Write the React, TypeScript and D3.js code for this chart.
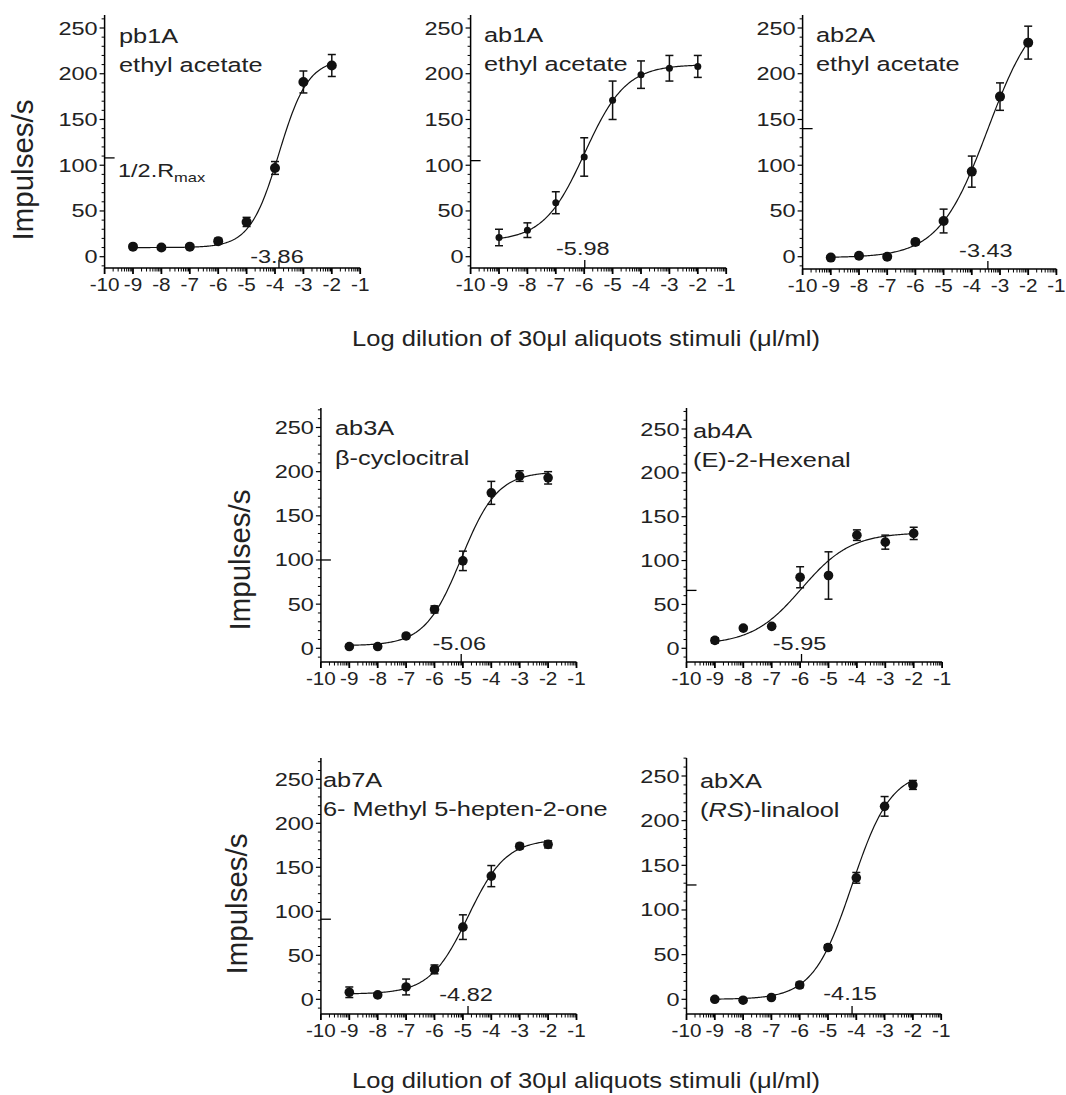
import React from "react";
import * as d3 from "d3";

// ---------- DATA ----------
const doses = [-9, -8, -7, -6, -5, -4, -3, -2];
const xTickLabels = ["-10", "-9", "-8", "-7", "-6", "-5", "-4", "-3", "-2", "-1"];
const yTickValues = [0, 50, 100, 150, 200, 250];
const neuronNames = ["pb1A", "ab1A", "ab2A", "ab3A", "ab4A", "ab7A", "abXA"];
const stimulusNames = [
  "ethyl acetate",
  "ethyl acetate",
  "ethyl acetate",
  "β-cyclocitral",
  "(E)-2-Hexenal",
  "6- Methyl 5-hepten-2-one",
  "(RS)-linalool",
];

const pb1AMeans = [11, 10, 11, 17, 38, 97, 191, 209];
const pb1AErrors = [2, 2, 2, 3, 5, 7, 12, 12];
const ab1AMeans = [21, 29, 59, 109, 171, 199, 206, 208];
const ab1AErrors = [9, 8, 12, 21, 21, 15, 14, 12];
const ab2AMeans = [-1, 1, 0, 16, 39, 93, 175, 234];
const ab2AErrors = [2, 2, 2, 3, 13, 17, 15, 18];
const ab3AMeans = [2, 2, 14, 44, 99, 176, 195, 193];
const ab3AErrors = [2, 2, 2, 4, 11, 13, 6, 7];
const ab4AMeans = [9, 23, 25, 81, 83, 129, 121, 131];
const ab4AErrors = [3, 2, 2, 12, 27, 6, 8, 7];
const ab7AMeans = [8, 5, 14, 34, 82, 140, 174, 176];
const ab7AErrors = [6, 2, 9, 5, 14, 12, 3, 4];
const abXAMeans = [0, -1, 2, 16, 58, 136, 216, 240];
const abXAErrors = [2, 2, 2, 3, 3, 6, 11, 5];

const allMeans = [pb1AMeans, ab1AMeans, ab2AMeans, ab3AMeans, ab4AMeans, ab7AMeans, abXAMeans];
const allErrors = [pb1AErrors, ab1AErrors, ab2AErrors, ab3AErrors, ab4AErrors, ab7AErrors, abXAErrors];

// sigmoidal dose-response fit parameters
const logEC50s = [-3.86, -5.98, -3.43, -5.06, -5.95, -4.82, -4.15];
const fitBottoms = [10, 17, -1, 3, 4, 6, 0];
const fitTops = [216, 210, 280, 200, 132, 182, 256];
const hillSlopes = [0.85, 0.6, 0.5, 0.68, 0.5, 0.65, 0.63];

const yAxisTitle = "Impulses/s";
const xAxisTitle = "Log dilution of 30μl aliquots stimuli (μl/ml)";

// ---------- LAYOUT ----------
const layouts = [
  { ax: 104.6, dec: 28.4, y0: 256.7, y250: 28.0, yTop: 15, yAxis: 268, lx: 119, lb1: 43, lb2: 72, ecOff: 5, r: 5 },
  { ax: 470.6, dec: 28.4, y0: 256.7, y250: 28.0, yTop: 15, yAxis: 268, lx: 484, lb1: 42, lb2: 71, ecOff: 13, r: 3.5 },
  { ax: 802.6, dec: 28.2, y0: 256.7, y250: 28.0, yTop: 15, yAxis: 269, lx: 816, lb1: 42, lb2: 71, ecOff: 12, r: 5 },
  { ax: 320.9, dec: 28.4, y0: 648.3, y250: 427.5, yTop: 408, yAxis: 662, lx: 335, lb1: 435, lb2: 465, ecOff: 12, r: 4.8 },
  { ax: 686.5, dec: 28.4, y0: 648.3, y250: 429, yTop: 408, yAxis: 662, lx: 693, lb1: 438, lb2: 467, ecOff: 12, r: 4.8 },
  { ax: 320.9, dec: 28.4, y0: 999.3, y250: 779.3, yTop: 758, yAxis: 1014, lx: 323, lb1: 787, lb2: 816, ecOff: 13, r: 4.8 },
  { ax: 686.5, dec: 28.3, y0: 999.3, y250: 776, yTop: 758, yAxis: 1014, lx: 700, lb1: 788, lb2: 817, ecOff: 14, r: 4.8 },
];
const FONT = "'Liberation Sans', Arial, Helvetica, sans-serif";
const TEXT = "#222";

function SText(props: any) {
  const { x, y, size, anchor = "start", sx = 1.27, children, style } = props;
  return (
    <text
      transform={`translate(${x},${y}) scale(${sx},1)`}
      fontSize={size}
      textAnchor={anchor}
      fontFamily={FONT}
      fill={TEXT}
      style={style}
    >
      {children}
    </text>
  );
}

function Panel({ i }: { i: number }) {
  const L = layouts[i];
  const x = d3.scaleLinear().domain([-10, -1]).range([L.ax, L.ax + 9 * L.dec]);
  const y = d3.scaleLinear().domain([0, 250]).range([L.y0, L.y250]);
  const yMinVal = y.invert(L.yAxis);
  const yMaxVal = y.invert(L.yTop);

  const means = allMeans[i];
  const errs = allErrors[i];
  const bottom = fitBottoms[i];
  const top = fitTops[i];
  const ec = logEC50s[i];
  const h = hillSlopes[i];
  const f = (v: number) => bottom + (top - bottom) / (1 + Math.pow(10, (ec - v) * h));
  const curvePts = d3.range(0, 201).map((k) => {
    const v = doses[0] + ((doses[doses.length - 1] - doses[0]) * k) / 200;
    return [x(v), y(f(v))] as [number, number];
  });
  const line = d3.line().curve(d3.curveLinear)(curvePts) || "";

  const majorX = d3.range(-10, 0);
  const minorX: number[] = [];
  for (let dd = -10; dd < -1; dd++) for (let k = 2; k <= 9; k++) minorX.push(dd + Math.log10(k));
  const minorY = d3
    .range(-10, yMaxVal, 10)
    .filter((v) => v >= yMinVal && Math.round(v) % 50 !== 0);

  const stim = stimulusNames[i];
  let stimEl: any = stim;
  if (stim.startsWith("(RS)")) {
    stimEl = (
      <>
        <tspan>(</tspan>
        <tspan fontStyle="italic">RS</tspan>
        <tspan>{stim.slice(3)}</tspan>
      </>
    );
  }

  return (
    <g>
      {/* axes */}
      <line x1={L.ax} x2={L.ax} y1={L.yTop} y2={L.yAxis} stroke="#000" strokeWidth={1.5} />
      <line x1={L.ax} x2={x(-1)} y1={L.yAxis} y2={L.yAxis} stroke="#000" strokeWidth={1.5} />
      {yTickValues.map((v) => (
        <g key={"ym" + v}>
          <line x1={L.ax - 5} x2={L.ax} y1={y(v)} y2={y(v)} stroke="#000" strokeWidth={1.2} />
          <SText x={L.ax - 7} y={y(v) + 6.5} size={18.5} anchor="end">
            {String(v)}
          </SText>
        </g>
      ))}
      {minorY.map((v) => (
        <line key={"yn" + v} x1={L.ax - 3} x2={L.ax} y1={y(v)} y2={y(v)} stroke="#000" strokeWidth={1} />
      ))}
      {majorX.map((v, k) => (
        <g key={"xm" + v}>
          <line x1={x(v)} x2={x(v)} y1={L.yAxis} y2={L.yAxis + 6} stroke="#000" strokeWidth={1.8} />
          <SText x={x(v)} y={L.yAxis + 23} size={18} anchor="middle" sx={1.15}>
            {xTickLabels[k]}
          </SText>
        </g>
      ))}
      {minorX.map((v, k) => (
        <line key={"xn" + k} x1={x(v)} x2={x(v)} y1={L.yAxis} y2={L.yAxis + 3.5} stroke="#000" strokeWidth={1} />
      ))}
      {/* half Rmax marker */}
      <line x1={L.ax} x2={L.ax + 10} y1={y(top / 2)} y2={y(top / 2)} stroke="#000" strokeWidth={1.3} />
      {i === 0 && (
        <SText x={118} y={y(top / 2) + 19} size={18.5}>
          1/2.R
          <tspan fontSize={13} dy={5}>
            max
          </tspan>
        </SText>
      )}
      {/* EC50 marker */}
      <line x1={x(ec)} x2={x(ec)} y1={L.yAxis} y2={L.yAxis - 8} stroke="#000" strokeWidth={1.3} />
      <SText x={x(ec) - 2} y={L.yAxis - L.ecOff} size={18.5} anchor="middle">
        {ec.toFixed(2)}
      </SText>
      {/* fitted curve */}
      <path d={line} fill="none" stroke="#111" strokeWidth={1.2} />
      {/* error bars and points */}
      {doses.map((dv, k) => {
        const cx = x(dv);
        const yl = y(means[k] - errs[k]);
        const yh = y(means[k] + errs[k]);
        return (
          <g key={"p" + k}>
            <line x1={cx} x2={cx} y1={yl} y2={yh} stroke="#111" strokeWidth={1.5} />
            <line x1={cx - 4} x2={cx + 4} y1={yl} y2={yl} stroke="#111" strokeWidth={1.5} />
            <line x1={cx - 4} x2={cx + 4} y1={yh} y2={yh} stroke="#111" strokeWidth={1.5} />
            <circle cx={cx} cy={y(means[k])} r={L.r} fill="#111" />
          </g>
        );
      })}
      {/* labels */}
      <SText x={L.lx} y={L.lb1} size={19.5} sx={1.3}>
        {neuronNames[i]}
      </SText>
      <SText x={L.lx} y={L.lb2} size={19.5} sx={1.3}>
        {stimEl}
      </SText>
    </g>
  );
}

const yTitles = [
  { x: 33, y: 170 },
  { x: 250, y: 560 },
  { x: 247, y: 904 },
];
const xTitles = [
  { x: 586, y: 346 },
  { x: 586, y: 1088 },
];

export default function App() {
  return (
    <svg
      width={1066}
      height={1095}
      style={{ position: "absolute", left: 0, top: 0, background: "#fff" }}
    >
      <rect x={0} y={0} width={1066} height={1095} fill="#fff" />
      {neuronNames.map((_, i) => (
        <Panel key={i} i={i} />
      ))}
      {yTitles.map((t, k) => (
        <text
          key={"yt" + k}
          transform={`translate(${t.x},${t.y}) rotate(-90)`}
          fontSize={29.5}
          textAnchor="middle"
          fontFamily={FONT}
          fill={TEXT}
        >
          {yAxisTitle}
        </text>
      ))}
      {xTitles.map((t, k) => (
        <text
          key={"xt" + k}
          x={t.x - 234}
          y={t.y}
          fontSize={22.5}
          textLength={468}
          lengthAdjust="spacingAndGlyphs"
          fontFamily={FONT}
          fill={TEXT}
        >
          {xAxisTitle}
        </text>
      ))}
    </svg>
  );
}
